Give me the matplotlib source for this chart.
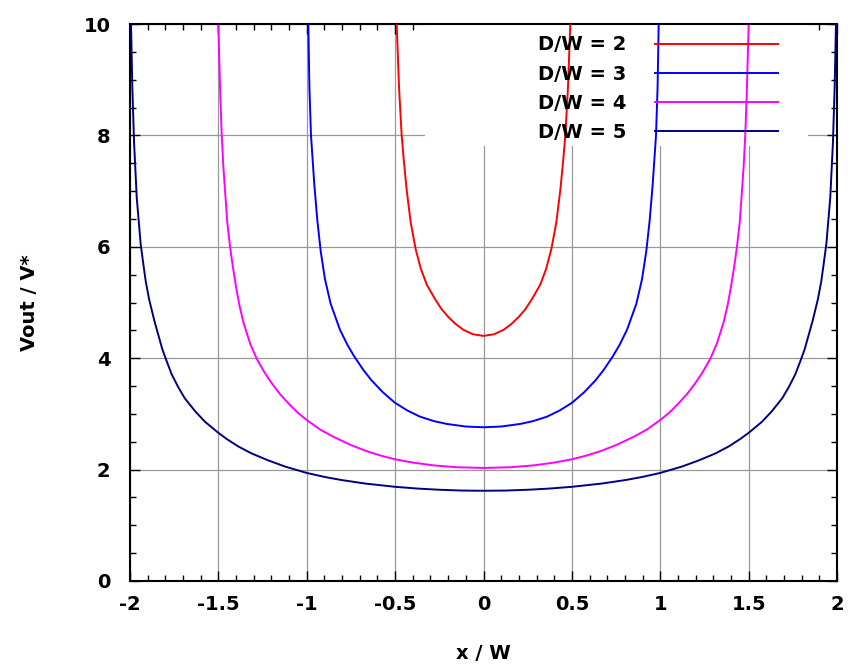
import matplotlib.pyplot as plt
from matplotlib.patches import Rectangle
from matplotlib.ticker import MultipleLocator

# values, x / W and Vout / V*
x_dw2 = [-0.491, -0.478, -0.463, -0.450, -0.435, -0.412, -0.384, -0.355, -0.321, -0.274, -0.237, -0.199,
         -0.160, -0.114, -0.060, 0.0,
         0.060, 0.114, 0.160, 0.199, 0.237, 0.274, 0.321, 0.355, 0.384, 0.412, 0.435, 0.450, 0.463, 0.478, 0.491]
v_dw2 = [9.98, 8.87, 8.00, 7.52, 7.03, 6.44, 5.96, 5.61, 5.32, 5.06, 4.88, 4.74,
         4.62, 4.51, 4.43, 4.40,
         4.43, 4.51, 4.62, 4.74, 4.88, 5.06, 5.32, 5.61, 5.96, 6.44, 7.03, 7.52, 8.00, 8.87, 9.98]

x_dw3 = [-0.991, -0.985, -0.976, -0.957, -0.940, -0.921, -0.897, -0.865, -0.812, -0.770, -0.731, -0.680,
         -0.633, -0.570, -0.501, -0.430, -0.359, -0.280, -0.208, -0.100, 0.0,
         0.100, 0.208, 0.280, 0.359, 0.430, 0.501, 0.570, 0.633, 0.680, 0.731, 0.770, 0.812, 0.865, 0.897,
         0.921, 0.940, 0.957, 0.976, 0.985, 0.991]
v_dw3 = [9.98, 8.87, 8.00, 7.11, 6.47, 5.92, 5.42, 4.98, 4.51, 4.24, 4.03, 3.79,
         3.60, 3.39, 3.20, 3.06, 2.95, 2.87, 2.82, 2.773, 2.76,
         2.773, 2.82, 2.87, 2.95, 3.06, 3.20, 3.39, 3.60, 3.79, 4.03, 4.24, 4.51, 4.98, 5.42,
         5.92, 6.47, 7.11, 8.00, 8.87, 9.98]

x_dw4 = [-1.500, -1.490, -1.481, -1.472, -1.463, -1.450, -1.434, -1.419, -1.400, -1.381, -1.359, -1.320,
         -1.283, -1.240, -1.198, -1.150, -1.095, -1.050, -1.000, -0.925, -0.850, -0.750, -0.661, -0.580,
         -0.500, -0.400, -0.284, -0.150, 0.0,
         0.150, 0.284, 0.400, 0.500, 0.580, 0.661, 0.750, 0.850, 0.925, 1.000, 1.050, 1.095, 1.150,
         1.198, 1.240, 1.283, 1.320, 1.359, 1.381, 1.400, 1.419, 1.434, 1.450, 1.463, 1.472, 1.481,
         1.490, 1.500]
v_dw4 = [9.97, 8.80, 8.00, 7.45, 7.04, 6.45, 6.00, 5.66, 5.28, 4.95, 4.65, 4.26,
         3.99, 3.75, 3.55, 3.35, 3.16, 3.02, 2.89, 2.72, 2.59, 2.44, 2.33, 2.25,
         2.185, 2.126, 2.076, 2.042, 2.03,
         2.042, 2.076, 2.126, 2.185, 2.25, 2.33, 2.44, 2.59, 2.72, 2.89, 3.02, 3.16, 3.35,
         3.55, 3.75, 3.99, 4.26, 4.65, 4.95, 5.28, 5.66, 6.00, 6.45, 7.04, 7.45, 8.00,
         8.80, 9.97]

x_dw5 = [-1.994, -1.987, -1.977, -1.962, -1.940, -1.925, -1.911, -1.892, -1.862, -1.840, -1.817, -1.793,
         -1.764, -1.727, -1.690, -1.632, -1.576, -1.504, -1.453, -1.387, -1.312, -1.217, -1.123, -1.000,
         -0.897, -0.802, -0.670, -0.500, -0.375, -0.250, -0.125, 0.0,
         0.125, 0.250, 0.375, 0.500, 0.670, 0.802, 0.897, 1.000, 1.123, 1.217, 1.312, 1.387, 1.453,
         1.504, 1.576, 1.632, 1.690, 1.727, 1.764, 1.793, 1.817, 1.840, 1.862, 1.892, 1.911, 1.925,
         1.940, 1.962, 1.977, 1.987, 1.994]
v_dw5 = [9.97, 8.89, 7.87, 6.89, 6.06, 5.70, 5.38, 5.06, 4.67, 4.42, 4.16, 3.95,
         3.71, 3.48, 3.28, 3.05, 2.86, 2.67, 2.55, 2.415, 2.29, 2.164, 2.055, 1.94,
         1.867, 1.812, 1.75, 1.691, 1.66, 1.638, 1.624, 1.62,
         1.624, 1.638, 1.66, 1.691, 1.75, 1.812, 1.867, 1.94, 2.055, 2.164, 2.29, 2.415, 2.55,
         2.67, 2.86, 3.05, 3.28, 3.48, 3.71, 3.95, 4.16, 4.42, 4.67, 5.06, 5.38, 5.70,
         6.06, 6.89, 7.87, 8.89, 9.97]

labels = ['D/W = 2', 'D/W = 3', 'D/W = 4', 'D/W = 5']
colors = ['#ff0000', '#0000ff', '#ff00ff', '#000080']

x_ticks = [-2, -1.5, -1, -0.5, 0, 0.5, 1, 1.5, 2]
x_ticklabels = ['-2', '-1.5', '-1', '-0.5', '0', '0.5', '1', '1.5', '2']
y_ticks = [0, 2, 4, 6, 8, 10]

plt.rcParams['font.family'] = ['DejaVu Sans']
plt.rcParams['font.weight'] = 'bold'

fig = plt.figure(figsize=(8.51, 6.67), dpi=100)
ax = fig.add_axes([130 / 851, 1 - 581 / 667, 707 / 851, 557 / 667])

ax.set_xlim(-2, 2)
ax.set_ylim(0, 10)
ax.set_xticks(x_ticks)
ax.set_xticklabels(x_ticklabels)
ax.set_yticks(y_ticks)
ax.xaxis.set_minor_locator(MultipleLocator(0.1))
ax.yaxis.set_minor_locator(MultipleLocator(0.5))
ax.tick_params(which='both', direction='in', top=True, right=True, width=1.0, color='black')
ax.tick_params(which='major', length=7)
ax.tick_params(which='minor', length=4)
ax.tick_params(axis='x', labelsize=14, pad=10)
ax.tick_params(axis='y', labelsize=14, pad=14)
for lab in ax.get_xticklabels() + ax.get_yticklabels():
    lab.set_fontweight('bold')

ax.grid(True, which='major', color='#999999', linewidth=0.9)
ax.set_axisbelow(True)
for sp in ax.spines.values():
    sp.set_linewidth(1.5)

# white box behind the key hides the grid there
ax.add_patch(Rectangle((0.417, 0.781), 0.542, 0.22, transform=ax.transAxes,
                       facecolor='white', edgecolor='none', zorder=1.5))

series = [(x_dw2, v_dw2), (x_dw3, v_dw3), (x_dw4, v_dw4), (x_dw5, v_dw5)]
for (xs, vs), lab, c in zip(series, labels, colors):
    ax.plot(xs, vs, color=c, linewidth=1.4, label=lab, zorder=3)

leg = ax.legend(loc='upper right', bbox_to_anchor=(0.941, 1.011), frameon=False,
                markerfirst=False, handlelength=6.3, handletextpad=1.5,
                labelspacing=0.53, prop={'weight': 'bold', 'size': 14})
for t in leg.get_texts():
    t.set_ha('right')

ax.set_xlabel('x / W', fontsize=14, fontweight='bold', labelpad=22)
ax.set_ylabel('Vout / V*', fontsize=14, fontweight='bold', labelpad=32)

fig.savefig('out.png', dpi=100)
